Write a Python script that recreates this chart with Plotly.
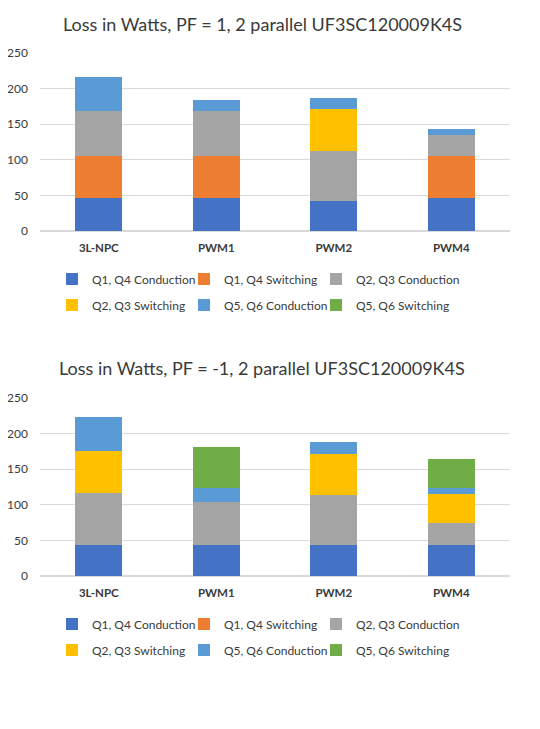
import plotly.graph_objects as go
from plotly.subplots import make_subplots

categories = ["3L-NPC", "PWM1", "PWM2", "PWM4"]
series_names = ["Q1, Q4 Conduction", "Q1, Q4 Switching", "Q2, Q3 Conduction",
                "Q2, Q3 Switching", "Q5, Q6 Conduction", "Q5, Q6 Switching"]
colors = ["#4472C4", "#ED7D31", "#A5A5A5", "#FFC000", "#5B9BD5", "#70AD47"]

# PF = 1
pf1_q14_cond = [47, 47, 42, 47]
pf1_q14_sw = [59, 59, 0, 59]
pf1_q23_cond = [63, 63, 71, 29]
pf1_q23_sw = [0, 0, 58, 0]
pf1_q56_cond = [48, 15, 16, 8]
pf1_q56_sw = [0, 0, 0, 0]

# PF = -1
pfm1_q14_cond = [43, 43, 43, 43]
pfm1_q14_sw = [0, 0, 0, 0]
pfm1_q23_cond = [73, 61, 71, 31]
pfm1_q23_sw = [59, 0, 58, 41]
pfm1_q56_cond = [48, 20, 16, 9]
pfm1_q56_sw = [0, 57, 0, 41]

titles = ["Loss in Watts, PF = 1, 2 parallel UF3SC120009K4S",
          "Loss in Watts, PF = -1, 2 parallel UF3SC120009K4S"]

pf1 = [pf1_q14_cond, pf1_q14_sw, pf1_q23_cond, pf1_q23_sw, pf1_q56_cond, pf1_q56_sw]
pfm1 = [pfm1_q14_cond, pfm1_q14_sw, pfm1_q23_cond, pfm1_q23_sw, pfm1_q56_cond, pfm1_q56_sw]

# the page body has an 8px margin, so the figure is drawn 8px in from the corner
OFF = 8
W, H = 540 - OFF, 729 - OFF
FONT = "Lato"
TXT = "#3a3a3a"

fig = make_subplots(rows=2, cols=1)

# one legend per legend row: top chart -> legend, legend2 ; bottom -> legend3, legend4
for row, data in enumerate([pf1, pfm1], start=1):
    for i, vals in enumerate(data):
        leg_idx = (row - 1) * 2 + (i // 3) + 1
        leg = "legend" if leg_idx == 1 else "legend%d" % leg_idx
        # last entry of a row gets room for its full text
        lw = 110 if i % 3 == 2 else None
        fig.add_trace(go.Bar(x=categories, y=vals, name=series_names[i],
                             marker=dict(color=colors[i], line=dict(width=0)),
                             legend=leg, legendwidth=lw), row=row, col=1)

def py(p):
    return 1 - (p - OFF) / H

def px_(p):
    return (p - OFF) / W

fig.update_layout(
    width=W, height=H,
    barmode="stack", bargap=0.6,
    plot_bgcolor="white", paper_bgcolor="white",
    margin=dict(l=0, r=0, t=0, b=0, autoexpand=False),
    font=dict(family=FONT, color=TXT, size=12),
    showlegend=True,
)

fig.update_xaxes(domain=[px_(40), px_(510)], showgrid=False, showline=False,
                 ticks="", automargin=False, ticklabelstandoff=8,
                 tickfont=dict(size=11.5, color=TXT, family=FONT, weight="bold"))
fig.update_yaxes(range=[0, 250], dtick=50, showgrid=True, gridcolor="#D9D9D9",
                 gridwidth=1, zeroline=True, zerolinecolor="#D9D9D9", showline=False,
                 ticks="", automargin=False, tickfont=dict(size=12, color=TXT),
                 ticklabelstandoff=11)
fig.update_yaxes(domain=[py(231), py(53)], row=1, col=1)
fig.update_yaxes(domain=[py(576), py(398)], row=2, col=1)

for yc, t in zip([24, 368], titles):
    fig.add_annotation(text=t, xref="paper", yref="paper", x=px_(262), y=py(yc),
                       xanchor="center", yanchor="middle", showarrow=False,
                       font=dict(size=18, color=TXT, family=FONT))

leg_rows = [279, 305, 624, 650]
for k, yc in enumerate(leg_rows):
    name = "legend" if k == 0 else "legend%d" % (k + 1)
    fig.update_layout({name: dict(orientation="h", xref="paper", yref="paper",
                                  x=px_(52), y=py(yc), xanchor="left", yanchor="middle",
                                  entrywidth=87, traceorder="normal",
                                  font=dict(size=12, color=TXT, family=FONT),
                                  bgcolor="rgba(0,0,0,0)", itemclick=False)})

fig.write_html("out.html")
